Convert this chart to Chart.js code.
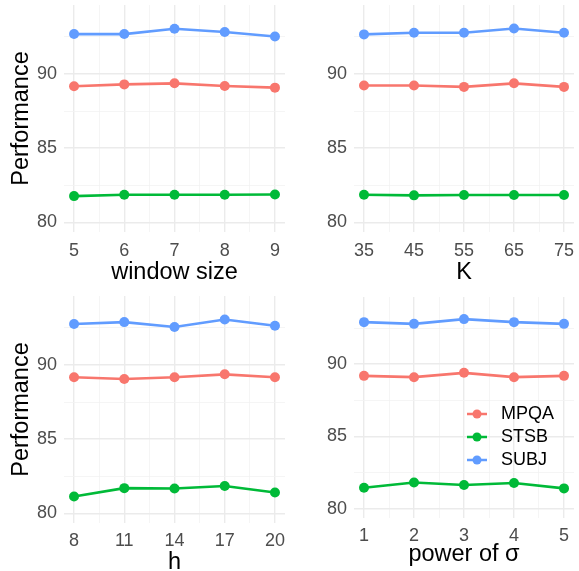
<!DOCTYPE html>
<html>
<head>
<meta charset="utf-8">
<script src="https://cdn.jsdelivr.net/npm/chart.js@4.4.0/dist/chart.umd.min.js"></script>
<style>
html, body { margin: 0; padding: 0; background: #fff; overflow: hidden; width: 579px; height: 571px; }
.panel { position: absolute; }
</style>
</head>
<body>
<div class="panel" style="left:0;top:0"><canvas id="c1" width="290" height="288"></canvas></div>
<div class="panel" style="left:290px;top:0"><canvas id="c2" width="289" height="288"></canvas></div>
<div class="panel" style="left:0;top:285px"><canvas id="c3" width="290" height="293"></canvas></div>
<div class="panel" style="left:290px;top:285px"><canvas id="c4" width="289" height="293"></canvas></div>
<script>
var seriesNames = ['MPQA', 'STSB', 'SUBJ'];
var seriesColors = ['#F8766D', '#00BA38', '#619CFF'];
var yTicks = [80, 85, 90];

// window size
var windowSize = [5, 6, 7, 8, 9];
var mpqaWindow = [89.17, 89.30, 89.37, 89.19, 89.08];
var stsbWindow = [81.77, 81.86, 81.86, 81.86, 81.88];
var subjWindow = [92.69, 92.69, 93.05, 92.83, 92.53];

// K
var kValues = [35, 45, 55, 65, 75];
var mpqaK = [89.22, 89.22, 89.13, 89.37, 89.13];
var stsbK = [81.86, 81.82, 81.84, 81.84, 81.84];
var subjK = [92.67, 92.78, 92.78, 93.07, 92.78];

// h
var hValues = [8, 11, 14, 17, 20];
var mpqaH = [89.17, 89.06, 89.17, 89.37, 89.17];
var stsbH = [81.14, 81.70, 81.68, 81.84, 81.41];
var subjH = [92.76, 92.89, 92.56, 93.07, 92.65];

// power of sigma
var sigmaPower = [1, 2, 3, 4, 5];
var mpqaSigma = [89.19, 89.10, 89.40, 89.10, 89.19];
var stsbSigma = [81.44, 81.81, 81.63, 81.77, 81.40];
var subjSigma = [92.91, 92.79, 93.12, 92.91, 92.79];

Chart.defaults.font.family = '"Liberation Sans", Arial, sans-serif';

function isMajor(v, majors) {
    return majors.some(function(m){ return Math.abs(m - v) < 1e-6; });
}

// major breaks plus the ggplot style minor breaks halfway between them
function withMinors(majors, min, max) {
    var step = majors[1] - majors[0];
    var all = [];
    majors.forEach(function(v){
        [v - step / 2, v, v + step / 2].forEach(function(t){
            if (t >= min && t <= max && !isMajor(t, all)) all.push(t);
        });
    });
    return all.sort(function(a, b){ return a - b; });
}

function gridColor(majors) {
    return function(ctx){ return isMajor(ctx.tick.value, majors) ? '#EBEBEB' : '#F2F2F2'; };
}
function gridWidth(majors) {
    return function(ctx){ return isMajor(ctx.tick.value, majors) ? 1.4 : 0.8; };
}

var insideLegend = {
    id: 'insideLegend',
    afterDatasetsDraw: function(chart, args, opts) {
        if (!opts.show) return;
        var ctx = chart.ctx;
        chart.data.datasets.forEach(function(ds, i){
            var y = opts.top + i * opts.gap;
            ctx.save();
            ctx.strokeStyle = ds.borderColor;
            ctx.lineWidth = 2.5;
            ctx.beginPath();
            ctx.moveTo(opts.x - 10, y);
            ctx.lineTo(opts.x + 10, y);
            ctx.stroke();
            ctx.fillStyle = ds.borderColor;
            ctx.beginPath();
            ctx.arc(opts.x, y, 4.5, 0, Math.PI * 2);
            ctx.fill();
            ctx.fillStyle = '#000';
            ctx.font = '18px "Liberation Sans", Arial, sans-serif';
            ctx.textBaseline = 'middle';
            ctx.fillText(ds.label, opts.x + 24, y);
            ctx.restore();
        });
    }
};

function makePanel(p) {
    var xs = p.xValues;
    var span = xs[xs.length - 1] - xs[0];
    var xMin = xs[0] - span * 0.05, xMax = xs[xs.length - 1] + span * 0.05;
    var canvas = document.getElementById(p.id);
    var W = canvas.width, H = canvas.height;

    var datasets = p.series.map(function(vals, i){
        return {
            label: seriesNames[i],
            data: xs.map(function(x, j){ return {x: x, y: vals[j]}; }),
            borderColor: seriesColors[i],
            backgroundColor: seriesColors[i],
            borderWidth: 2.6,
            pointRadius: 5,
            pointHoverRadius: 5,
            pointBorderWidth: 0,
            tension: 0,
            clip: false
        };
    });

    return new Chart(canvas, {
        type: 'line',
        data: {datasets: datasets},
        plugins: [insideLegend],
        options: {
            responsive: false,
            animation: false,
            layout: {padding: {top: p.area.top, right: W - p.area.right, left: 0, bottom: 0}},
            plugins: {
                legend: {display: false},
                tooltip: {enabled: false},
                insideLegend: p.legend || {show: false}
            },
            scales: {
                x: {
                    type: 'linear',
                    min: xMin, max: xMax,
                    afterBuildTicks: function(s){ s.ticks = withMinors(xs, xMin, xMax).map(function(v){ return {value: v}; }); },
                    afterFit: function(s){
                        s.height = H - p.area.bottom;
                        s.paddingLeft = 0; s.paddingRight = 0;
                    },
                    ticks: {
                        autoSkip: false, maxRotation: 0, padding: p.tickPad,
                        color: '#4D4D4D', font: {size: 18},
                        callback: function(v){ return isMajor(v, xs) ? String(v) : ''; }
                    },
                    grid: {drawTicks: false, color: gridColor(xs), lineWidth: gridWidth(xs)},
                    border: {display: false},
                    title: {display: true, text: p.xTitle, color: '#000', font: {size: 23.5}, padding: {top: 0, bottom: p.titlePad}}
                },
                y: {
                    min: 79.35, max: 94.65,
                    afterBuildTicks: function(s){ s.ticks = withMinors(yTicks, 79.35, 94.65).map(function(v){ return {value: v}; }); },
                    afterFit: function(s){
                        s.width = 64;
                        s.paddingTop = 0; s.paddingBottom = 0;
                    },
                    ticks: {
                        autoSkip: false, padding: 7,
                        color: '#4D4D4D', font: {size: 18},
                        callback: function(v){ return isMajor(v, yTicks) ? String(v) : ''; }
                    },
                    grid: {drawTicks: false, color: gridColor(yTicks), lineWidth: gridWidth(yTicks)},
                    border: {display: false},
                    title: {display: !!p.yTitle, text: p.yTitle || '', color: '#000', font: {size: 23.5}, padding: {top: 7, bottom: 0}}
                }
            }
        }
    });
}

makePanel({id: 'c1', xValues: windowSize, series: [mpqaWindow, stsbWindow, subjWindow],
    xTitle: 'window size', yTitle: 'Performance', area: {top: 5, bottom: 232, right: 288}, tickPad: 8, titlePad: 1.5});
makePanel({id: 'c2', xValues: kValues, series: [mpqaK, stsbK, subjK],
    xTitle: 'K', area: {top: 5, bottom: 232, right: 289}, tickPad: 8, titlePad: 1.5});
makePanel({id: 'c3', xValues: hValues, series: [mpqaH, stsbH, subjH],
    xTitle: 'h', yTitle: 'Performance', area: {top: 11, bottom: 238, right: 288}, tickPad: 7, titlePad: 1.5});
makePanel({id: 'c4', xValues: sigmaPower, series: [mpqaSigma, stsbSigma, subjSigma],
    xTitle: 'power of σ', area: {top: 12, bottom: 233, right: 289}, tickPad: 7.5, titlePad: 9,
    legend: {show: true, x: 187, top: 129, gap: 23}});
</script>
</body>
</html>
